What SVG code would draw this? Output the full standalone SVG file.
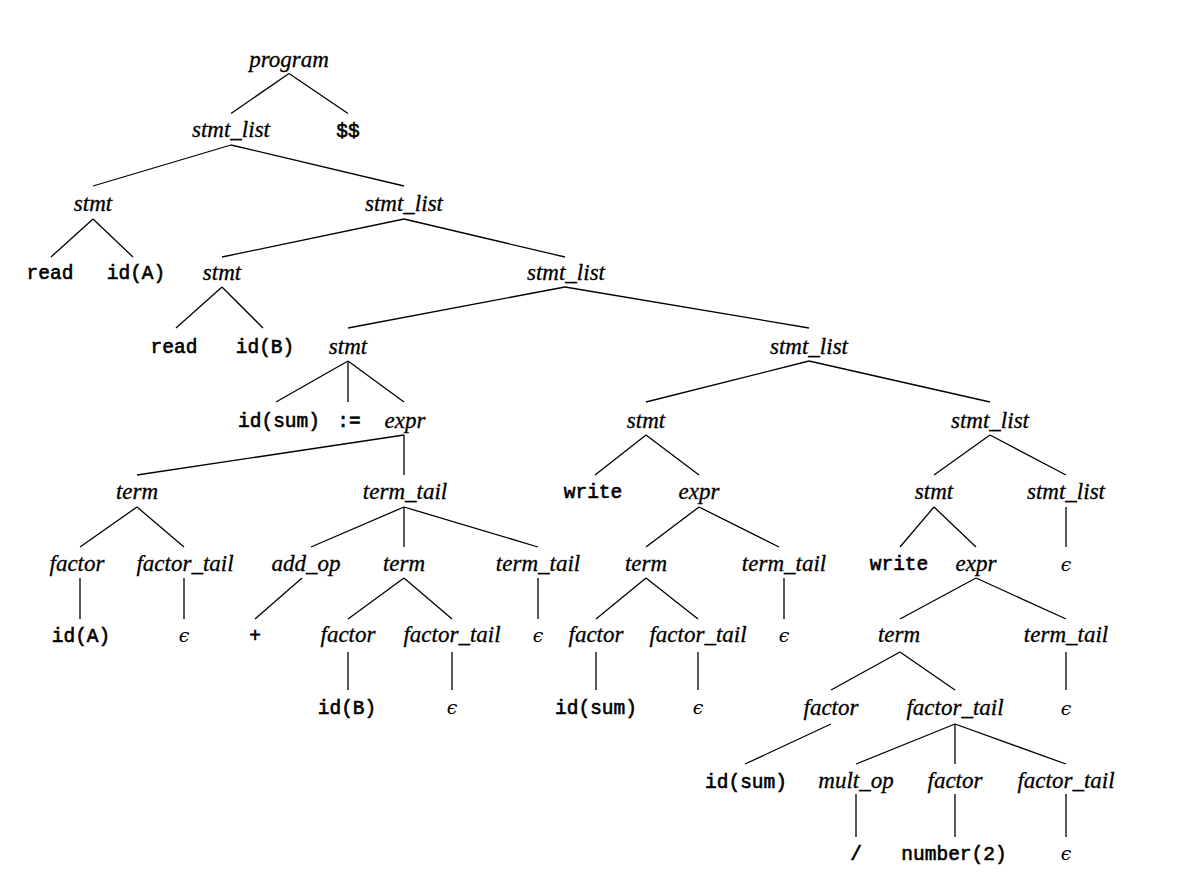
<svg xmlns="http://www.w3.org/2000/svg" width="1184" height="890" viewBox="0 0 1184 890">
<style>
.n{font-family:"Liberation Serif",serif;font-style:italic;font-size:23px;text-anchor:middle;fill:#000;stroke:#000;stroke-width:0.3}
.t{font-family:"Liberation Mono",monospace;font-size:19.5px;text-anchor:middle;fill:#000;stroke:#000;stroke-width:0.6}
.e{font-family:"DejaVu Serif","Liberation Serif",serif;font-style:italic;font-size:19px;text-anchor:middle;fill:#000}
#edges line{stroke:#000;stroke-width:1.3}
</style>
<rect width="1184" height="890" fill="#fff"/>
<g id="edges">
<line x1="289" y1="73.5" x2="231" y2="113.5"/>
<line x1="289" y1="73.5" x2="348" y2="113.5"/>
<line x1="231" y1="145" x2="93" y2="186"/>
<line x1="231" y1="145" x2="404" y2="186"/>
<line x1="93" y1="219" x2="51" y2="257"/>
<line x1="93" y1="219" x2="133" y2="257"/>
<line x1="404" y1="219" x2="222" y2="257"/>
<line x1="404" y1="219" x2="565" y2="257"/>
<line x1="222" y1="287" x2="176" y2="328"/>
<line x1="222" y1="287" x2="263" y2="328"/>
<line x1="565" y1="287" x2="348" y2="328"/>
<line x1="565" y1="287" x2="809" y2="328"/>
<line x1="348" y1="361" x2="276" y2="402"/>
<line x1="348" y1="361" x2="348" y2="402"/>
<line x1="348" y1="361" x2="404" y2="402"/>
<line x1="809" y1="361" x2="646" y2="402"/>
<line x1="809" y1="361" x2="990" y2="402"/>
<line x1="404" y1="435" x2="137" y2="475"/>
<line x1="404" y1="435" x2="404" y2="475"/>
<line x1="646" y1="435" x2="595" y2="475"/>
<line x1="646" y1="435" x2="699" y2="475"/>
<line x1="990" y1="435" x2="934" y2="475"/>
<line x1="990" y1="435" x2="1066" y2="475"/>
<line x1="137" y1="507" x2="80" y2="547"/>
<line x1="137" y1="507" x2="184" y2="547"/>
<line x1="404" y1="507" x2="311" y2="547"/>
<line x1="404" y1="507" x2="404" y2="547"/>
<line x1="404" y1="507" x2="538" y2="547"/>
<line x1="699" y1="507" x2="646" y2="547"/>
<line x1="699" y1="507" x2="779" y2="547"/>
<line x1="934" y1="507" x2="900" y2="547"/>
<line x1="934" y1="507" x2="976" y2="547"/>
<line x1="1066" y1="507" x2="1066" y2="547"/>
<line x1="80" y1="578" x2="80" y2="619"/>
<line x1="184" y1="578" x2="184" y2="619"/>
<line x1="302" y1="578" x2="255" y2="619"/>
<line x1="404" y1="578" x2="348" y2="619"/>
<line x1="404" y1="578" x2="452" y2="619"/>
<line x1="538" y1="578" x2="538" y2="619"/>
<line x1="646" y1="578" x2="596" y2="619"/>
<line x1="646" y1="578" x2="698" y2="619"/>
<line x1="784" y1="578" x2="784" y2="619"/>
<line x1="976" y1="578" x2="900" y2="619"/>
<line x1="976" y1="578" x2="1066" y2="619"/>
<line x1="348" y1="652" x2="348" y2="690"/>
<line x1="452" y1="652" x2="452" y2="690"/>
<line x1="596" y1="652" x2="596" y2="690"/>
<line x1="698" y1="652" x2="698" y2="690"/>
<line x1="900" y1="652" x2="831" y2="690"/>
<line x1="900" y1="652" x2="955" y2="690"/>
<line x1="1066" y1="652" x2="1066" y2="690"/>
<line x1="831" y1="724" x2="745" y2="764"/>
<line x1="955" y1="724" x2="856" y2="764"/>
<line x1="955" y1="724" x2="955" y2="764"/>
<line x1="955" y1="724" x2="1066" y2="764"/>
<line x1="856" y1="794" x2="856" y2="837"/>
<line x1="955" y1="794" x2="955" y2="837"/>
<line x1="1066" y1="794" x2="1066" y2="837"/>
</g>
<g id="n-program"><text class="n" x="289" y="67">program</text></g>
<g id="n-sl1"><text class="n" x="231" y="137">stmt_list</text></g>
<g id="n-eof"><text class="t" x="348" y="137">$$</text></g>
<g id="n-stmt1"><text class="n" x="93" y="211">stmt</text></g>
<g id="n-sl2"><text class="n" x="404" y="211">stmt_list</text></g>
<g id="n-read1"><text class="t" x="50" y="279">read</text></g>
<g id="n-idA1"><text class="t" x="136" y="279">id(A)</text></g>
<g id="n-stmt2"><text class="n" x="222" y="280">stmt</text></g>
<g id="n-sl3"><text class="n" x="566" y="280">stmt_list</text></g>
<g id="n-read2"><text class="t" x="174" y="353">read</text></g>
<g id="n-idB1"><text class="t" x="265" y="353">id(B)</text></g>
<g id="n-stmt3"><text class="n" x="348" y="354">stmt</text></g>
<g id="n-sl4"><text class="n" x="809" y="354">stmt_list</text></g>
<g id="n-idsum1"><text class="t" x="279" y="427">id(sum)</text></g>
<g id="n-assign"><text class="t" x="349" y="427">:=</text></g>
<g id="n-expr1"><text class="n" x="405" y="428">expr</text></g>
<g id="n-stmt4"><text class="n" x="646" y="428">stmt</text></g>
<g id="n-sl5"><text class="n" x="990" y="428">stmt_list</text></g>
<g id="n-term1"><text class="n" x="137" y="499">term</text></g>
<g id="n-tt1"><text class="n" x="405" y="499">term_tail</text></g>
<g id="n-write1"><text class="t" x="593" y="498">write</text></g>
<g id="n-expr2"><text class="n" x="699" y="499">expr</text></g>
<g id="n-stmt5"><text class="n" x="934" y="499">stmt</text></g>
<g id="n-sl6"><text class="n" x="1066" y="499">stmt_list</text></g>
<g id="n-factor1"><text class="n" x="77" y="571">factor</text></g>
<g id="n-ft1"><text class="n" x="185" y="571">factor_tail</text></g>
<g id="n-addop"><text class="n" x="306" y="571">add_op</text></g>
<g id="n-term2"><text class="n" x="404" y="571">term</text></g>
<g id="n-tt2"><text class="n" x="538" y="571">term_tail</text></g>
<g id="n-term3"><text class="n" x="646" y="571">term</text></g>
<g id="n-tt3"><text class="n" x="784" y="571">term_tail</text></g>
<g id="n-write2"><text class="t" x="899" y="570">write</text></g>
<g id="n-expr3"><text class="n" x="976" y="571">expr</text></g>
<g id="n-eps1"><text class="e" x="1066" y="571">ϵ</text></g>
<g id="n-idA2"><text class="t" x="81" y="642">id(A)</text></g>
<g id="n-eps2"><text class="e" x="184" y="642">ϵ</text></g>
<g id="n-plus"><text class="t" x="255" y="642">+</text></g>
<g id="n-factor2"><text class="n" x="348" y="642">factor</text></g>
<g id="n-ft2"><text class="n" x="452" y="642">factor_tail</text></g>
<g id="n-eps3"><text class="e" x="538" y="642">ϵ</text></g>
<g id="n-factor3"><text class="n" x="596" y="642">factor</text></g>
<g id="n-ft3"><text class="n" x="698" y="642">factor_tail</text></g>
<g id="n-eps4"><text class="e" x="784" y="642">ϵ</text></g>
<g id="n-term4"><text class="n" x="899" y="642">term</text></g>
<g id="n-tt4"><text class="n" x="1066" y="642">term_tail</text></g>
<g id="n-idB2"><text class="t" x="347" y="714">id(B)</text></g>
<g id="n-eps5"><text class="e" x="452" y="714">ϵ</text></g>
<g id="n-idsum2"><text class="t" x="596" y="714">id(sum)</text></g>
<g id="n-eps6"><text class="e" x="698" y="714">ϵ</text></g>
<g id="n-factor4"><text class="n" x="831" y="715">factor</text></g>
<g id="n-ft4"><text class="n" x="955" y="715">factor_tail</text></g>
<g id="n-eps7"><text class="e" x="1066" y="715">ϵ</text></g>
<g id="n-idsum3"><text class="t" x="746" y="788">id(sum)</text></g>
<g id="n-multop"><text class="n" x="856" y="788">mult_op</text></g>
<g id="n-factor5"><text class="n" x="955" y="788">factor</text></g>
<g id="n-ft5"><text class="n" x="1066" y="788">factor_tail</text></g>
<g id="n-slash"><text class="t" x="856" y="860">/</text></g>
<g id="n-num2"><text class="t" x="954" y="860">number(2)</text></g>
<g id="n-eps8"><text class="e" x="1066" y="860">ϵ</text></g>
</svg>
